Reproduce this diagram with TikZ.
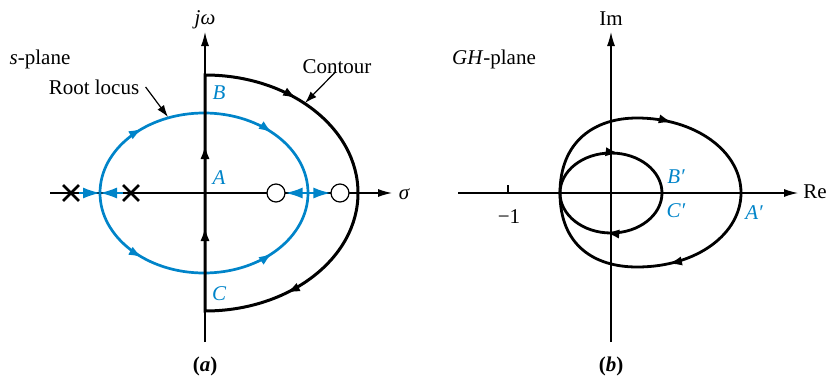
\documentclass[tikz,border=0pt]{standalone}
\usepackage{fontspec}
\setmainfont{Liberation Serif}
\usetikzlibrary{arrows.meta, positioning, shapes.misc, decorations.markings}
\definecolor{locusblue}{RGB}{0,132,201}
\tikzset{
  axisline/.style={-{Latex[length=7pt,width=4pt]}, line width=0.6pt},
  locusline/.style={color=locusblue, line width=1.35pt},
  locusaxis/.style={color=locusblue, line width=0.7pt, -{Latex[length=8.5pt,width=5.5pt]}},
  contourline/.style={line width=1.5pt, line join=miter},
  nyqline/.style={line width=1.4pt},
  pointer/.style={-{Latex[length=6pt,width=4pt]}, line width=0.6pt},
  tipat/.style={postaction={decorate, decoration={markings,
      mark=at position #1 with {\arrow{Latex[length=7pt,width=4.6pt]}}}}},
  pole/.style={cross out, draw, line width=1.4pt, minimum size=6.5pt, inner sep=0pt},
  zero/.style={circle, draw, fill=white, line width=0.6pt, minimum size=9pt, inner sep=0pt},
  txt/.style={font=\fontsize{10.5}{12}\selectfont, inner sep=1pt},
  ptlabel/.style={txt, text=locusblue, font=\fontsize{10.5}{12}\selectfont\itshape}
}
\begin{document}
\begin{tikzpicture}[x=0.5pt, y=0.5pt]
  \useasboundingbox (0,0) rectangle (829,376);

  % (a) s-plane
  \coordinate (sleft) at (50,183);
  \coordinate (sright) at (392,183);
  \coordinate (sbot) at (205,34);
  \coordinate (stop) at (205,344);
  \draw[axisline] (sleft) -- (sright);
  \draw[axisline] (sbot) -- (stop);
  \node[txt] (sigma) at (404,182) {\itshape σ};
  \node[txt] (jw) at (205,356) {\itshape jω};

  \draw[locusline, tipat=0.28, tipat=0.75] (100,183)
    arc[start angle=180, end angle=0, x radius=104, y radius=80];
  \draw[locusline, tipat=0.28, tipat=0.75] (100,183)
    arc[start angle=180, end angle=360, x radius=104, y radius=80];

  \coordinate (brk) at (100,183);
  \coordinate (ent) at (308,183);
  \node[pole] (p1) at (71,183) {};
  \node[pole] (p2) at (131,183) {};
  \node[zero] (z1) at (276,183) {};
  \node[zero] (z2) at (340,183) {};
  \draw[locusaxis] (p1) -- (brk);
  \draw[locusaxis] (p2) -- (brk);
  \draw[locusaxis] (ent) -- (z1);
  \draw[locusaxis] (ent) -- (z2);

  \coordinate (cC) at (205,65);
  \coordinate (cB) at (205,301);
  \draw[contourline, tipat=42pt, tipat=83pt, tipat=166pt, tipat=290pt] (cC) -- (cB)
    arc[start angle=90, end angle=-90, x radius=153, y radius=118] -- cycle;

  \node[ptlabel] (B) at (219,283) {B};
  \node[ptlabel] (A) at (219,198) {A};
  \node[ptlabel] (C) at (219,82) {C};

  \node[txt] (splane) at (40,317) {\textit{s}-plane};
  \node[txt] (rootlbl) at (94,289) {Root locus};
  \coordinate (rl) at (168,259);
  \draw[pointer] ([xshift=2pt]rootlbl.east) -- (rl);
  \node[txt] (contourlbl) at (337,309) {Contour};
  \coordinate (ct) at (305,273);
  \draw[pointer] ([shift={(-1pt,2pt)}]contourlbl.south) -- (ct);

  \node[txt] (capa) at (205,10) {\textbf{(\textit{a})}};

  % (b) GH-plane
  \coordinate (gleft) at (458,183);
  \coordinate (gright) at (798,183);
  \coordinate (gbot) at (611,34);
  \coordinate (gtop) at (611,344);
  \draw[axisline] (gleft) -- (gright);
  \draw[axisline] (gbot) -- (gtop);
  \node[txt] (Re) at (815,184) {Re};
  \node[txt] (Im) at (611,357) {Im};
  \coordinate (m1) at (508,183);
  \draw[line width=0.6pt] (m1) -- ++(0,8);
  \node[txt] (minus1) at (509,159) {−1};
  \node[txt] (ghplane) at (494,317) {\textit{GH}-plane};

  \draw[nyqline, tipat=0.28, tipat=0.77] (560,183)
    arc[start angle=180, end angle=-180, x radius=51, y radius=40];
  \draw[nyqline, tipat=0.30, tipat=0.71] (560,183)
    .. controls (560,235) and (595,258) .. (637,258)
    .. controls (695,258) and (741,225) .. (741,183)
    .. controls (741,143) and (698,109) .. (637,109)
    .. controls (595,109) and (560,130) .. (560,183);

  \node[ptlabel] (Bp) at (676,199) {B′};
  \node[ptlabel] (Cp) at (676,165) {C′};
  \node[ptlabel] (Ap) at (754,163) {A′};

  \node[txt] (capb) at (611,10) {\textbf{(\textit{b})}};
\end{tikzpicture}
\end{document}
